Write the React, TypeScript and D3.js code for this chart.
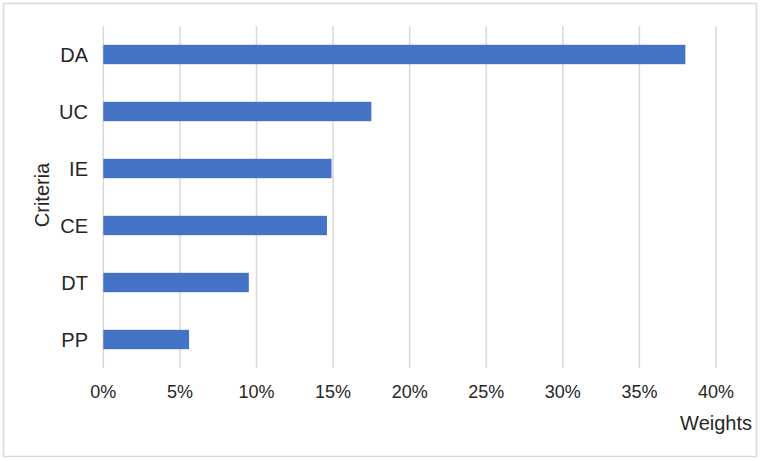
import React from "react";
import * as d3 from "d3";

const categories = ["DA", "UC", "IE", "CE", "DT", "PP"];
const weights = [0.38, 0.175, 0.149, 0.146, 0.095, 0.056];
const ticks = [0, 0.05, 0.1, 0.15, 0.2, 0.25, 0.3, 0.35, 0.4];

const W = 762;
const H = 461;
const left = 103.3;
const right = 716;
const top = 26;
const bottom = 368;

export default function App() {
  const x = d3.scaleLinear().domain([0, 0.4]).range([left, right]);
  const y = d3
    .scaleBand<string>()
    .domain(categories)
    .range([top, bottom])
    .paddingInner(0.66)
    .paddingOuter(0.33);
  const font = "Arial, 'Liberation Sans', sans-serif";
  const fmt = d3.format(".0%");
  return (
    <svg
      width={W}
      height={H}
      style={{ position: "absolute", left: 0, top: 0 }}
      fontFamily={font}
    >
      <rect x={0} y={0} width={W} height={H} fill="#fff" />
      <rect x={3.5} y={3.5} width={753} height={453} fill="none" stroke="#d9d9d9" strokeWidth={1.5} />
      {ticks.map((t) => (
        <g key={t}>
          <line x1={x(t)} x2={x(t)} y1={top} y2={bottom} stroke="#d9d9d9" strokeWidth={1.5} />
          <text x={x(t)} y={392} textAnchor="middle" dominantBaseline="central" fontSize={18} fill="#262626">
            {fmt(t)}
          </text>
        </g>
      ))}
      {categories.map((c, i) => (
        <g key={c}>
          <rect
            x={x(0)}
            y={y(c)!}
            width={x(weights[i]) - x(0)}
            height={y.bandwidth()}
            fill="#4472C4"
          />
          <text
            x={88}
            y={y(c)! + y.bandwidth() / 2}
            textAnchor="end"
            dominantBaseline="central"
            fontSize={20}
            fill="#262626"
          >
            {c}
          </text>
        </g>
      ))}
      <text
        transform={`translate(42,195) rotate(-90)`}
        textAnchor="middle"
        dominantBaseline="central"
        fontSize={20}
        fill="#262626"
      >
        Criteria
      </text>
      <text x={752} y={423} textAnchor="end" dominantBaseline="central" fontSize={20} fill="#262626">
        Weights
      </text>
    </svg>
  );
}
